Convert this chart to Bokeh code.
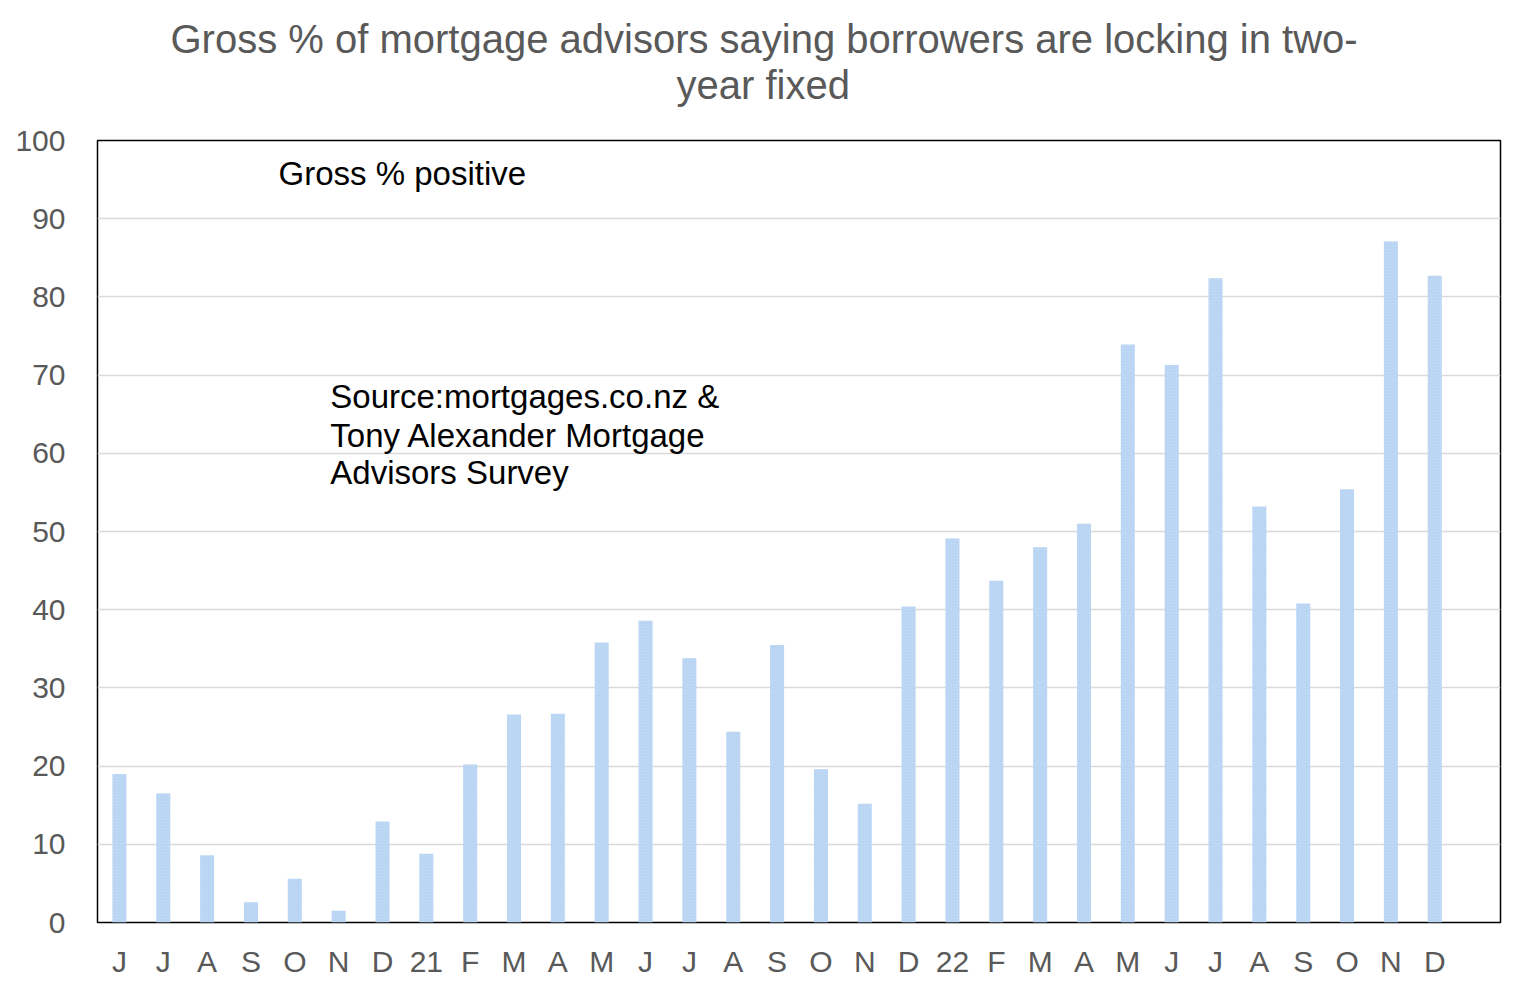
from bokeh.plotting import figure
from bokeh.models import Range1d, FixedTicker, Label, Title
from bokeh.embed import file_html
from bokeh.resources import INLINE

# ---- data ----
month_labels = ["J", "J", "A", "S", "O", "N", "D",
                "21", "F", "M", "A", "M", "J", "J", "A", "S", "O", "N", "D",
                "22", "F", "M", "A", "M", "J", "J", "A", "S", "O", "N", "D"]
gross_positive = [19.0, 16.5, 8.6, 2.6, 5.6, 1.5, 12.9,
                  8.8, 20.2, 26.6, 26.7, 35.8, 38.6, 33.8, 24.4, 35.5, 19.6, 15.2, 40.4,
                  49.1, 43.7, 48.0, 51.0, 73.9, 71.3, 82.4, 53.2, 40.8, 55.4, 87.1, 82.7]
y_ticks = [0, 10, 20, 30, 40, 50, 60, 70, 80, 90, 100]

title_lines = ["Gross % of mortgage advisors saying borrowers are locking in two-",
               "year fixed"]
series_name = "Gross % positive"
source_lines = ["Source:mortgages.co.nz  &", "Tony Alexander  Mortgage", "Advisors Survey"]

xs = list(range(len(month_labels)))

FONT = "Liberation Sans"
GREY = "#595959"

p = figure(width=1520, height=990, output_backend="svg", toolbar_location=None,
           x_range=Range1d(-0.5, len(month_labels) + 0.5), y_range=Range1d(0, 100),
           min_border_left=97, min_border_right=20, min_border_top=140, min_border_bottom=68)

p.vbar(x=xs, top=gross_positive, width=0.32, fill_color="#BDD8F4", line_color=None,
       hatch_pattern="dot", hatch_color="#A8C7EA", hatch_scale=3, hatch_weight=0.6, hatch_alpha=0.6)

p.outline_line_color = "black"
p.outline_line_width = 1.5
p.background_fill_color = "white"
p.border_fill_color = "white"

p.xgrid.grid_line_color = None
p.ygrid.grid_line_color = "#D9D9D9"
p.ygrid.grid_line_width = 1.3
p.ygrid.ticker = FixedTicker(ticks=y_ticks)

p.yaxis.ticker = FixedTicker(ticks=y_ticks)
p.xaxis.ticker = FixedTicker(ticks=xs)
p.xaxis.major_label_overrides = {i: lab for i, lab in enumerate(month_labels)}

for ax in (p.xaxis[0], p.yaxis[0]):
    ax.axis_line_color = None
    ax.major_tick_line_color = None
    ax.minor_tick_line_color = None
    ax.major_label_text_font = FONT
    ax.major_label_text_font_size = "30px"
    ax.major_label_text_color = GREY
p.yaxis.major_label_standoff = 26
p.xaxis.major_label_standoff = 16

# two-line title (closest line added first)
p.add_layout(Title(text=title_lines[1], align="left", offset=579, standoff=68,
                   text_font=FONT, text_font_size="40px", text_color=GREY,
                   text_font_style="normal"), "above")
p.add_layout(Title(text=title_lines[0], align="left", offset=73, standoff=-69,
                   text_font=FONT, text_font_size="40px", text_color=GREY,
                   text_font_style="normal"), "above")

p.add_layout(Label(x=3.63, y=95.75, text=series_name, text_align="left", text_baseline="middle",
                   text_font=FONT, text_font_size="33px", text_color="black"))
for line, yy in zip(source_lines, [67.3, 62.3, 57.5]):
    p.add_layout(Label(x=4.81, y=yy, text=line, text_align="left", text_baseline="middle",
                       text_font=FONT, text_font_size="33px", text_color="black"))

open("out.html", "w").write(file_html(p, INLINE))
